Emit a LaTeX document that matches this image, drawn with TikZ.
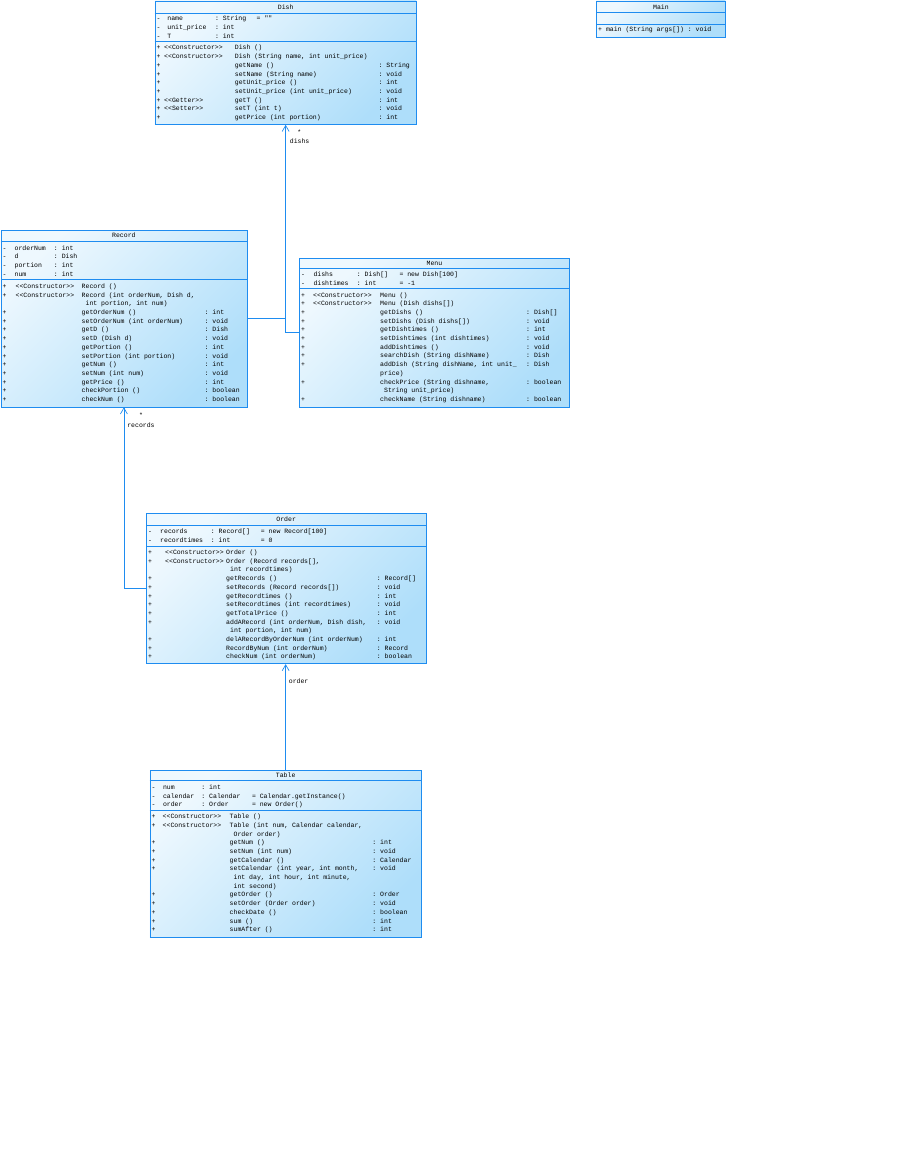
\documentclass[tikz,border=0pt]{standalone}
\usepackage{fontspec}
\setmonofont{Liberation Mono}
\usepackage{array}
\usetikzlibrary{arrows.meta,calc}

\definecolor{umlblue}{RGB}{30,140,240}
\definecolor{umllight}{RGB}{238,248,254}
\definecolor{umldark}{RGB}{174,222,250}
\newcommand{\stereotype}[1]{<{}<#1>{}>}

\begin{document}
\begin{tikzpicture}[
    x=1pt, y=-1pt,
    font=\ttfamily\fontsize{6.5}{8.7}\selectfont,
    umlclass/.style={draw=umlblue, line width=0.8pt, left color=umllight, right color=umldark, shading angle=45, anchor=north west, inner sep=0pt},
    compartment/.style={anchor=north west, inner sep=0pt, align=left},
    classtitle/.style={inner sep=0pt, text height=4.5pt, text depth=0pt},
    sepline/.style={draw=umlblue, line width=0.8pt},
    assoc/.style={draw=umlblue, line width=0.7pt},
    navig/.style={assoc, -{Straight Barb[length=6pt, width=7pt]}},
    rolelabel/.style={inner sep=0pt, anchor=west},
    multlabel/.style={inner sep=0pt}
]

    \useasboundingbox (0,0) rectangle (908,1173);

    \node[umlclass, minimum width=261.5pt, minimum height=123.5pt] (dish) at (154.5,0.5) {};
    \node[classtitle] (dish_title) at ([yshift=-6.5pt]dish.north) {Dish};
    \draw[sepline] ([yshift=-12.5pt]dish.north west) -- ([yshift=-12.5pt]dish.north east);
    \draw[sepline] ([yshift=-40.5pt]dish.north west) -- ([yshift=-40.5pt]dish.north east);
    \node[compartment] (dish_attrs) at ([xshift=2pt,yshift=-14.2pt]dish.north west) {\begin{tabular}{@{}w{l}{10.7pt}@{}w{l}{47.6pt}@{}w{l}{41.7pt}@{}l@{}}
        - & name & : String & = "" \\
        - & unit\_price & : int & \\
        - & T & : int &
    \end{tabular}};
    \node[compartment] (dish_ops) at ([xshift=2pt,yshift=-43.2pt]dish.north west) {\begin{tabular}{@{}w{l}{7.5pt}@{}w{l}{70.7pt}@{}w{l}{143.7pt}@{}l@{}}
        + & \stereotype{Constructor} & Dish () & \\
        + & \stereotype{Constructor} & Dish (String name, int unit\_price) & \\
        + & & getName () & : String \\
        + & & setName (String name) & : void \\
        + & & getUnit\_price () & : int \\
        + & & setUnit\_price (int unit\_price) & : void \\
        + & \stereotype{Getter} & getT () & : int \\
        + & \stereotype{Setter} & setT (int t) & : void \\
        + & & getPrice (int portion) & : int
    \end{tabular}};

    \node[umlclass, minimum width=129pt, minimum height=36pt] (main) at (596,0.5) {};
    \node[classtitle] (main_title) at ([yshift=-6.3pt]main.north) {Main};
    \draw[sepline] ([yshift=-12.2pt]main.north west) -- ([yshift=-12.2pt]main.north east);
    \draw[sepline] ([yshift=-24pt]main.north west) -- ([yshift=-24pt]main.north east);
    \node[compartment] (main_ops) at ([xshift=2pt,yshift=-26pt]main.north west) {+ main (String args[]) : void};

    \node[umlclass, minimum width=246pt, minimum height=176.5pt] (record) at (0.5,230) {};
    \node[classtitle] (record_title) at ([yshift=-5.7pt]record.north) {Record};
    \draw[sepline] ([yshift=-11.3pt]record.north west) -- ([yshift=-11.3pt]record.north east);
    \draw[sepline] ([yshift=-49.7pt]record.north west) -- ([yshift=-49.7pt]record.north east);
    \node[compartment] (record_attrs) at ([xshift=2pt,yshift=-13.9pt]record.north west) {\begin{tabular}{@{}w{l}{12pt}@{}w{l}{39.3pt}@{}l@{}}
        - & orderNum & : int \\
        - & d & : Dish \\
        - & portion & : int \\
        - & num & : int
    \end{tabular}};
    \node[compartment] (record_ops) at ([xshift=2pt,yshift=-52.2pt]record.north west) {\begin{tabular}{@{}w{l}{13pt}@{}w{l}{66pt}@{}w{l}{123pt}@{}l@{}}
        + & \stereotype{Constructor} & Record () & \\
        + & \stereotype{Constructor} & Record (int orderNum, Dish d, & \\
          & & \ int portion, int num) & \\
        + & & getOrderNum () & : int \\
        + & & setOrderNum (int orderNum) & : void \\
        + & & getD () & : Dish \\
        + & & setD (Dish d) & : void \\
        + & & getPortion () & : int \\
        + & & setPortion (int portion) & : void \\
        + & & getNum () & : int \\
        + & & setNum (int num) & : void \\
        + & & getPrice () & : int \\
        + & & checkPortion () & : boolean \\
        + & & checkNum () & : boolean
    \end{tabular}};

    \node[umlclass, minimum width=270pt, minimum height=149pt] (menu) at (299,257.7) {};
    \node[classtitle] (menu_title) at ([yshift=-5.3pt]menu.north) {Menu};
    \draw[sepline] ([yshift=-10.6pt]menu.north west) -- ([yshift=-10.6pt]menu.north east);
    \draw[sepline] ([yshift=-30.8pt]menu.north west) -- ([yshift=-30.8pt]menu.north east);
    \node[compartment] (menu_attrs) at ([xshift=2pt,yshift=-12.9pt]menu.north west) {\begin{tabular}{@{}w{l}{12.3pt}@{}w{l}{43.4pt}@{}w{l}{42.6pt}@{}l@{}}
        - & dishs & : Dish[] & = new Dish[100] \\
        - & dishtimes & : int & = -1
    \end{tabular}};
    \node[compartment] (menu_ops) at ([xshift=2pt,yshift=-33.1pt]menu.north west) {\begin{tabular}{@{}w{l}{12pt}@{}w{l}{67pt}@{}w{l}{146pt}@{}l@{}}
        + & \stereotype{Constructor} & Menu () & \\
        + & \stereotype{Constructor} & Menu (Dish dishs[]) & \\
        + & & getDishs () & : Dish[] \\
        + & & setDishs (Dish dishs[]) & : void \\
        + & & getDishtimes () & : int \\
        + & & setDishtimes (int dishtimes) & : void \\
        + & & addDishtimes () & : void \\
        + & & searchDish (String dishName) & : Dish \\
        + & & addDish (String dishName, int unit\_ & : Dish \\
          & & price) & \\
        + & & checkPrice (String dishname, & : boolean \\
          & & \ String unit\_price) & \\
        + & & checkName (String dishname) & : boolean
    \end{tabular}};

    \node[umlclass, minimum width=279.5pt, minimum height=150pt] (order) at (146,513.3) {};
    \node[classtitle] (order_title) at ([yshift=-5.9pt]order.north) {Order};
    \draw[sepline] ([yshift=-11.7pt]order.north west) -- ([yshift=-11.7pt]order.north east);
    \draw[sepline] ([yshift=-32.7pt]order.north west) -- ([yshift=-32.7pt]order.north east);
    \node[compartment] (order_attrs) at ([xshift=2pt,yshift=-14pt]order.north west) {\begin{tabular}{@{}w{l}{12pt}@{}w{l}{50.7pt}@{}w{l}{50pt}@{}l@{}}
        - & records & : Record[] & = new Record[100] \\
        - & recordtimes & : int & = 0
    \end{tabular}};
    \node[compartment] (order_ops) at ([xshift=2pt,yshift=-35pt]order.north west) {\begin{tabular}{@{}w{l}{17pt}@{}w{l}{61pt}@{}w{l}{150.7pt}@{}l@{}}
        + & \stereotype{Constructor} & Order () & \\
        + & \stereotype{Constructor} & Order (Record records[], & \\
          & & \ int recordtimes) & \\
        + & & getRecords () & : Record[] \\
        + & & setRecords (Record records[]) & : void \\
        + & & getRecordtimes () & : int \\
        + & & setRecordtimes (int recordtimes) & : void \\
        + & & getTotalPrice () & : int \\
        + & & addARecord (int orderNum, Dish dish, & : void \\
          & & \ int portion, int num) & \\
        + & & delARecordByOrderNum (int orderNum) & : int \\
        + & & RecordByNum (int orderNum) & : Record \\
        + & & checkNum (int orderNum) & : boolean
    \end{tabular}};

    \node[umlclass, minimum width=271.5pt, minimum height=167pt] (table) at (149.5,770) {};
    \node[classtitle] (table_title) at ([yshift=-5.4pt]table.north) {Table};
    \draw[sepline] ([yshift=-10.7pt]table.north west) -- ([yshift=-10.7pt]table.north east);
    \draw[sepline] ([yshift=-40pt]table.north west) -- ([yshift=-40pt]table.north east);
    \node[compartment] (table_attrs) at ([xshift=2pt,yshift=-13pt]table.north west) {\begin{tabular}{@{}w{l}{11.3pt}@{}w{l}{38.4pt}@{}w{l}{50.6pt}@{}l@{}}
        - & num & : int & \\
        - & calendar & : Calendar & = Calendar.getInstance() \\
        - & order & : Order & = new Order()
    \end{tabular}};
    \node[compartment] (table_ops) at ([xshift=2pt,yshift=-42.3pt]table.north west) {\begin{tabular}{@{}w{l}{11pt}@{}w{l}{67pt}@{}w{l}{142.7pt}@{}l@{}}
        + & \stereotype{Constructor} & Table () & \\
        + & \stereotype{Constructor} & Table (int num, Calendar calendar, & \\
          & & \ Order order) & \\
        + & & getNum () & : int \\
        + & & setNum (int num) & : void \\
        + & & getCalendar () & : Calendar \\
        + & & setCalendar (int year, int month, & : void \\
          & & \ int day, int hour, int minute, & \\
          & & \ int second) & \\
        + & & getOrder () & : Order \\
        + & & setOrder (Order order) & : void \\
        + & & checkDate () & : boolean \\
        + & & sum () & : int \\
        + & & sumAfter () & : int
    \end{tabular}};

    \draw[navig] (menu.west) -| (dish.south);
    \draw[assoc] (record.east) -- (record.east -| dish.south);
    \draw[navig] (order.west) -| (record.south);
    \draw[navig] (table.north) -- (table.north |- order.south);

    \node[multlabel] (dishs_mult) at ([xshift=13.7pt,yshift=-7.7pt]dish.south) {*};
    \node[rolelabel] (dishs_role) at ([xshift=4pt,yshift=-16.5pt]dish.south) {dishs};
    \node[multlabel] (records_mult) at ([xshift=17.2pt,yshift=-7.5pt]record.south) {*};
    \node[rolelabel] (records_role) at ([xshift=3.2pt,yshift=-17.5pt]record.south) {records};
    \node[rolelabel] (order_role) at ([xshift=2.5pt,yshift=-17.4pt]order.south) {order};

\end{tikzpicture}
\end{document}
